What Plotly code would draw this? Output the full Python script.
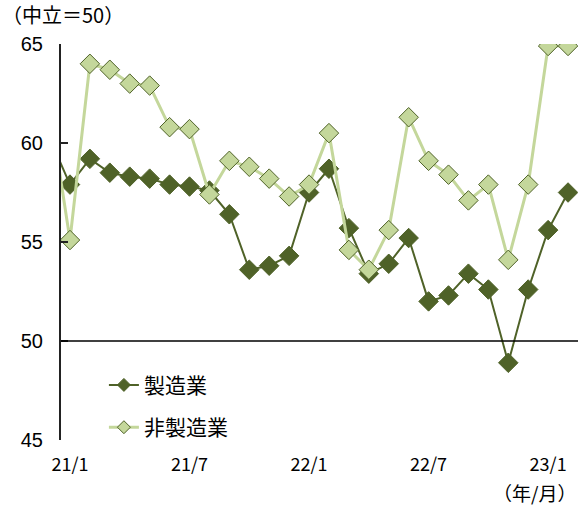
import plotly.graph_objects as go

# Monthly diffusion index, 2020/12 through 2023/2 (neutral = 50)
months = ["20/12",
          "21/1", "21/2", "21/3", "21/4", "21/5", "21/6",
          "21/7", "21/8", "21/9", "21/10", "21/11", "21/12",
          "22/1", "22/2", "22/3", "22/4", "22/5", "22/6",
          "22/7", "22/8", "22/9", "22/10", "22/11", "22/12",
          "23/1", "23/2"]
manufacturing = [60.2,
                 57.9, 59.2, 58.5, 58.3, 58.2, 57.9,
                 57.8, 57.6, 56.4, 53.6, 53.8, 54.3,
                 57.5, 58.7, 55.7, 53.4, 53.9, 55.2,
                 52.0, 52.3, 53.4, 52.6, 48.9, 52.6,
                 55.6, 57.5]
non_manufacturing = [61.7,
                     55.1, 64.0, 63.7, 63.0, 62.9, 60.8,
                     60.7, 57.4, 59.1, 58.8, 58.2, 57.3,
                     57.9, 60.5, 54.6, 53.6, 55.6, 61.3,
                     59.1, 58.4, 57.1, 57.9, 54.1, 57.9,
                     64.9, 64.9]
series_names = ["製造業", "非製造業"]
tick_months = ["21/1", "21/7", "22/1", "22/7", "23/1"]
y_ticks = [45, 50, 55, 60, 65]

# Month positions: 21/1 = 0
xpos = list(range(-1, len(months) - 1))
tick_pos = [xpos[months.index(m)] for m in tick_months]

DARK = "#4F6228"
LIGHT = "#C4D79B"
JP = "Noto Sans CJK JP"

styles = [
    dict(line=dict(color=DARK, width=2), fill=DARK),
    dict(line=dict(color=LIGHT, width=3), fill=LIGHT),
]
values = [manufacturing, non_manufacturing]

fig = go.Figure()
for name, vals, st in zip(series_names, values, styles):
    fig.add_trace(go.Scatter(
        x=xpos, y=vals, name=name, mode="lines+markers",
        line=st["line"],
        marker=dict(symbol="diamond", size=15, color=st["fill"],
                    line=dict(color=DARK, width=1)),
        showlegend=False, cliponaxis=True))
# Legend entries with smaller sample markers
for i, (name, st) in enumerate(zip(series_names, styles)):
    fig.add_trace(go.Scatter(
        x=[None], y=[None], name=name, mode="lines+markers",
        line=st["line"],
        marker=dict(symbol="diamond", size=10, color=st["fill"],
                    line=dict(color=DARK, width=1)),
        legendgroup=f"g{i}", showlegend=True))

# Horizontal axis drawn at the neutral level
fig.add_hline(y=50, line=dict(color="black", width=1.5), layer="above")

fig.update_layout(
    width=578, height=507,
    margin=dict(l=61, r=0, t=44, b=67),
    plot_bgcolor="white", paper_bgcolor="white",
    showlegend=True,
    legend=dict(x=0.083, y=0.19, xanchor="left", yanchor="top",
                font=dict(family=JP, size=21, color="black"),
                bgcolor="rgba(0,0,0,0)", tracegroupgap=12,
                traceorder="grouped"),
    xaxis=dict(range=[-0.45, 25.5], showgrid=False, zeroline=False,
               showline=False, ticks="", tickvals=tick_pos,
               ticktext=tick_months, ticklabelstandoff=12,
               tickfont=dict(family=JP, size=18, color="black")),
    yaxis=dict(range=[45, 65], tickvals=y_ticks, showgrid=False,
               zeroline=False, showline=True, linecolor="#222",
               linewidth=2, ticks="inside", ticklen=7, tickwidth=2,
               tickcolor="#222", ticklabelstandoff=12,
               tickfont=dict(family="Liberation Sans", size=20,
                             color="black")),
    annotations=[
        dict(text="（中立＝50）", xref="paper", yref="paper",
             x=-61 / 517, y=(440 - 15) / 396, xanchor="left",
             yanchor="middle", showarrow=False,
             font=dict(family=JP, size=20, color="black")),
        dict(text="（年/月）", xref="paper", yref="paper",
             x=1.0, y=(440 - 492) / 396, xanchor="right",
             yanchor="middle", showarrow=False,
             font=dict(family=JP, size=19, color="black")),
    ],
)

fig.write_html("out.html")
